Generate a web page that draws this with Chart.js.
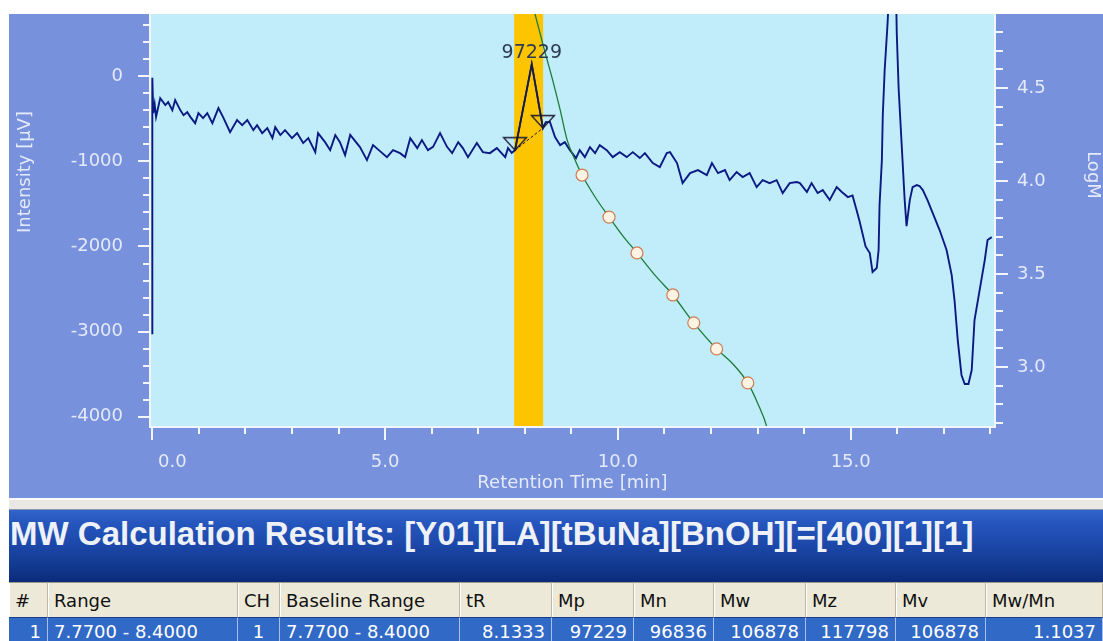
<!DOCTYPE html>
<html>
<head>
<meta charset="utf-8">
<script src="https://cdn.jsdelivr.net/npm/chart.js@4.4.1/dist/chart.umd.min.js"></script>
<style>
html,body{margin:0;padding:0;background:#fff;}
body{width:1103px;height:641px;overflow:hidden;position:relative;font-family:"DejaVu Sans",sans-serif;}
#plot{position:absolute;left:0;top:0;}
.strip{position:absolute;left:9px;top:498px;width:1094px;height:12px;box-sizing:border-box;background:#e9e8e2;border-top:2px solid #fbfbff;border-bottom:1px solid #8c94b0;}
.titlebar{position:absolute;left:9px;top:510px;width:1094px;height:72px;background:linear-gradient(to bottom,#3164c9 0%,#2556bd 18%,#1c47a8 50%,#12398f 78%,#0b2b7a 100%);}
.titlebar span{position:absolute;left:1px;top:8px;font:bold 33px "Liberation Sans",Arial,sans-serif;line-height:32px;color:#eef1f8;white-space:nowrap;}
.cell{position:absolute;box-sizing:border-box;white-space:nowrap;font-size:18px;padding:0 6px;overflow:hidden;}
.head{top:582px;height:35px;line-height:35px;background:#ece9d8;color:#111;border-top:1px solid #9c9a90;border-right:1px solid #bdb9a6;box-shadow:inset 1px 0 #fff;}
.row{top:617px;height:28px;line-height:28px;background:#3169c6;color:#fff;border-top:1px solid #1c3f8c;border-right:1px solid #a9c0ee;}
</style>
</head>
<body>
<canvas id="plot" width="1103" height="498"></canvas>
<div class="strip"></div>
<div class="titlebar"><span id="title"></span></div>
<div id="table"></div>
<script>
// chromatogram trace: retention time [min] and detector signal [µV]
const traceTime=[0.00,0.00,0.02,0.05,0.08,0.17,0.28,0.34,0.43,0.49,
  0.60,0.67,0.75,0.82,0.92,0.99,1.09,1.18,1.29,1.42,
  1.52,1.67,1.82,1.93,2.04,2.17,2.25,2.36,2.47,2.58,
  2.64,2.75,2.85,3.00,3.11,3.24,3.35,3.50,3.56,3.71,
  3.82,3.93,4.03,4.14,4.25,4.46,4.61,4.74,4.89,5.04,
  5.17,5.32,5.43,5.54,5.69,5.79,5.92,6.03,6.18,6.33,
  6.44,6.57,6.67,6.78,6.97,7.10,7.25,7.40,7.58,7.64,
  7.72,7.79,8.15,8.39,8.45,8.54,8.65,8.76,8.86,8.97,
  9.10,9.18,9.29,9.40,9.51,9.61,9.76,9.89,10.04,10.19,
  10.32,10.47,10.58,10.75,10.90,11.05,11.12,11.27,11.39,11.55,
  11.72,11.91,12.02,12.15,12.30,12.40,12.55,12.68,12.83,12.98,
  13.11,13.26,13.41,13.54,13.69,13.84,13.91,14.06,14.16,14.29,
  14.40,14.55,14.70,14.81,14.94,15.04,15.12,15.19,15.32,15.41,
  15.47,15.56,15.60,15.62,15.67,15.69,15.73,15.79,15.84,15.90,
  15.97,15.99,16.03,16.09,16.16,16.20,16.27,16.33,16.42,16.48,
  16.55,16.65,16.78,16.91,17.06,17.17,17.23,17.30,17.38,17.45,
  17.53,17.60,17.66,17.77,17.88,17.94,18.03];
const traceSignal=[-3030,-20,-434,-330,-480,-258,-340,-305,-399,-282,
  -399,-458,-423,-481,-552,-434,-493,-434,-552,-375,
  -481,-657,-516,-575,-516,-634,-575,-669,-610,-728,
  -599,-692,-634,-728,-669,-786,-728,-892,-669,-775,
  -869,-692,-775,-927,-690,-833,-986,-810,-880,-951,
  -870,-904,-950,-728,-845,-751,-869,-830,-669,-830,
  -904,-775,-845,-951,-786,-892,-904,-845,-951,-845,
  -900,-869,141,-610,-540,-539,-716,-810,-775,-869,
  -962,-869,-951,-833,-904,-810,-869,-951,-892,-951,
  -892,-962,-904,-1021,-1068,-904,-892,-1021,-1256,-1139,
  -1103,-1162,-1021,-1139,-1103,-1221,-1127,-1185,-1139,-1303,
  -1221,-1256,-1221,-1373,-1256,-1244,-1256,-1361,-1256,-1373,
  -1338,-1455,-1303,-1361,-1420,-1400,-1560,-1700,-2000,-2077,
  -2300,-2253,-2042,-1514,-986,-458,70,599,1127,1600,
  1127,505,-141,-751,-1455,-1761,-1455,-1303,-1279,-1290,
  -1338,-1455,-1631,-1807,-2042,-2336,-2629,-3099,-3509,-3615,
  -3615,-3451,-2864,-2512,-2160,-1925,-1890];

// integrated peak: start, apex, end
const peakTime=[7.79,8.15,8.39];
const peakSignal=[-869,141,-610];
const peakLabel='97229';
const rangeStart=7.77, rangeEnd=8.40;

// calibration curve (logM vs time) and standards
const calibTime=[8.18,8.22,8.41,8.61,8.76,8.91,9.08,9.23,9.51,9.81,10.11,10.41,10.79,11.18,11.63,12.12,12.47,12.79,13.00,13.20,13.26];
const calibLogM=[4.935,4.898,4.715,4.532,4.382,4.220,4.113,4.032,3.914,3.806,3.704,3.613,3.495,3.387,3.237,3.097,3.016,2.914,2.806,2.677,2.608];
const standardTime=[9.23,9.81,10.41,11.18,11.63,12.12,12.79];
const standardLogM=[4.032,3.806,3.613,3.387,3.237,3.097,2.914];

// results table
const titleText='MW Calculation Results: [Y01][LA][tBuNa][BnOH][=[400][1][1]';
const columnNames=['#','Range','CH','Baseline Range','tR','Mp','Mn','Mw','Mz','Mv','Mw/Mn'];
const resultRow=['1','7.7700 - 8.4000','1','7.7700 - 8.4000','8.1333','97229','96836','106878','117798','106878','1.1037'];

const xMin=-0.05, xMax=18.1, yMin=-4120, yMax=730, logMin=2.677, logMax=4.898;

const FRAME='#7891dc', PLOT='#c1ecfa', TICK='#f2f5ff', LABEL='#e4eafa';
const font={family:'DejaVu Sans',size:18};

const pts=(xs,ys)=>xs.map((v,i)=>({x:v,y:ys[i]}));

const triangleMark=(()=>{
  const c=document.createElement('canvas');c.width=26;c.height=30;
  const g=c.getContext('2d');
  g.strokeStyle='#1a1a2e';g.lineWidth=1.3;
  g.beginPath();g.moveTo(1.5,2.5);g.lineTo(24.5,2.5);g.lineTo(13,15);g.closePath();g.stroke();
  return c;
})();

const decor={
  id:'decor',
  beforeDraw(chart){
    const {ctx,chartArea:a}=chart;
    ctx.save();
    ctx.fillStyle='#fff';ctx.fillRect(0,0,chart.width,chart.height);
    ctx.fillStyle=FRAME;ctx.fillRect(9,14,chart.width-9,chart.height-14);
    ctx.fillStyle=PLOT;ctx.fillRect(a.left,a.top,a.right-a.left,a.bottom-a.top);
    ctx.restore();
  },
  afterDraw(chart){
    const {ctx,chartArea:a,scales}=chart;
    ctx.save();
    ctx.strokeStyle=TICK;ctx.lineWidth=2;
    const seg=(x1,y1,x2,y2)=>{ctx.beginPath();ctx.moveTo(x1,y1);ctx.lineTo(x2,y2);ctx.stroke();};
    // axis lines
    seg(a.left,a.top,a.left,a.bottom+1);
    seg(a.left-1,a.bottom,a.right+1,a.bottom);
    seg(a.right,a.top,a.right,a.bottom+1);
    // tick marks
    scales.x.ticks.forEach(t=>{const p=Math.round(scales.x.getPixelForValue(t.value));seg(p,a.bottom,p,a.bottom+(t.label?13:7));});
    scales.y.ticks.forEach(t=>{const p=Math.round(scales.y.getPixelForValue(t.value));seg(a.left,p,a.left-(t.label?12:7),p);});
    scales.y1.ticks.forEach(t=>{const p=Math.round(scales.y1.getPixelForValue(t.value));seg(a.right,p,a.right+(t.label?13:8),p);});
    // axis titles
    ctx.fillStyle=LABEL;ctx.font='18px "DejaVu Sans"';ctx.textAlign='center';ctx.textBaseline='middle';
    ctx.fillText('Retention Time [min]',(a.left+a.right)/2,483);
    ctx.save();ctx.translate(25,172);ctx.rotate(-Math.PI/2);ctx.fillText('Intensity [µV]',0,0);ctx.restore();
    ctx.save();ctx.translate(1093,175);ctx.rotate(Math.PI/2);ctx.fillText('LogM',0,0);ctx.restore();
    // peak label
    ctx.fillStyle='#2e3a52';ctx.font='19px "DejaVu Sans"';ctx.textBaseline='alphabetic';
    ctx.fillText(peakLabel,scales.x.getPixelForValue(peakTime[1]),scales.y.getPixelForValue(peakSignal[1])-6);
    ctx.restore();
  }
};

const hidden={drawOnChartArea:false,drawTicks:true,color:'rgba(0,0,0,0)'};
const noPad=s=>{s.paddingTop=0;s.paddingBottom=0;s.paddingLeft=0;s.paddingRight=0;};

new Chart(document.getElementById('plot'),{
  type:'line',
  data:{datasets:[
    {data:pts([rangeStart,rangeEnd],[yMax,yMax]),fill:'start',backgroundColor:'#fdc500',borderWidth:0,pointRadius:0,order:10},
    {data:pts(traceTime,traceSignal),borderColor:'#0b1a82',borderWidth:1.9,pointRadius:0,order:5},
    {data:pts(peakTime,peakSignal),borderColor:'#1c1c3a',borderWidth:1.6,pointRadius:0,order:4},
    {data:pts([peakTime[0],peakTime[2]],[peakSignal[0],peakSignal[2]]),borderColor:'#202030',borderWidth:1,borderDash:[3,2],pointRadius:0,order:3},
    {data:pts(calibTime,calibLogM),yAxisID:'y1',borderColor:'#1b7d3a',borderWidth:1.3,pointRadius:0,cubicInterpolationMode:'monotone',order:2},
    {data:pts(standardTime,standardLogM),yAxisID:'y1',showLine:false,pointRadius:6,pointBackgroundColor:'#fff3e4',pointBorderColor:'#cf7d52',pointBorderWidth:1.2,order:1},
    {data:pts([peakTime[0],peakTime[2]],[peakSignal[0],peakSignal[2]]),showLine:false,pointStyle:triangleMark,pointRadius:6,order:0}
  ]},
  options:{
    responsive:false,animation:false,devicePixelRatio:1,
    layout:{padding:{left:9,top:14,right:0,bottom:0}},
    plugins:{legend:{display:false},tooltip:{enabled:false}},
    scales:{
      x:{type:'linear',position:'bottom',min:xMin,max:xMax,
        grid:Object.assign({tickLength:13},hidden),border:{display:false},
        ticks:{stepSize:1,includeBounds:false,autoSkip:false,maxRotation:0,color:LABEL,font,padding:12,
          callback:v=>Math.abs(v%5)<1e-9?(v===0?'       0.0':v.toFixed(1)):''},
        afterFit:s=>{s.height=71;noPad(s);}},
      y:{position:'left',min:yMin,max:yMax,
        grid:Object.assign({tickLength:12},hidden),border:{display:false},
        ticks:{stepSize:200,includeBounds:false,autoSkip:false,color:LABEL,font,padding:15,
          callback:v=>v%1000===0?String(v):''},
        afterFit:s=>{s.width=141;noPad(s);}},
      y1:{position:'right',min:logMin,max:logMax,
        grid:Object.assign({tickLength:13},hidden),border:{display:false},
        ticks:{stepSize:0.1,includeBounds:false,autoSkip:false,color:LABEL,font,padding:9,
          callback:v=>{const k=Math.round(v*10);return k%5===0?(k/10).toFixed(1):'';}},
        afterFit:s=>{s.width=108;noPad(s);}}
    }
  },
  plugins:[decor]
});

document.getElementById('title').textContent=titleText;
const colEdges=[9,48,238,280,460,552,634,714,806,896,986,1103];
const rowAlign=['right','left','center','left','right','right','right','right','right','right','right'];
const table=document.getElementById('table');
columnNames.forEach((name,i)=>{
  const w=colEdges[i+1]-colEdges[i];
  const h=document.createElement('div');
  h.className='cell head';h.style.left=colEdges[i]+'px';h.style.width=w+'px';h.textContent=name;
  table.appendChild(h);
  const r=document.createElement('div');
  r.className='cell row';r.style.left=colEdges[i]+'px';r.style.width=w+'px';r.style.textAlign=rowAlign[i];r.textContent=resultRow[i];
  table.appendChild(r);
});
</script>
</body>
</html>
